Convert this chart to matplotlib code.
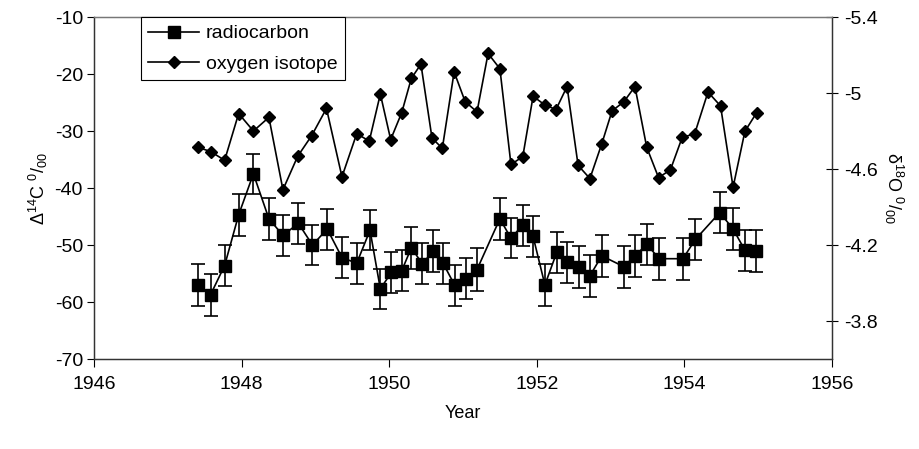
import matplotlib
matplotlib.use('Agg')
import matplotlib.pyplot as plt
from matplotlib.lines import Line2D

plt.rcParams['font.family'] = ['Liberation Sans', 'DejaVu Sans']
plt.rcParams['mathtext.fontset'] = 'custom'
plt.rcParams['mathtext.rm'] = 'Liberation Sans'
plt.rcParams['mathtext.it'] = 'Liberation Sans:italic'
plt.rcParams['mathtext.bf'] = 'Liberation Sans:bold'
plt.rcParams['axes.unicode_minus'] = False

# ---- data ----
c14_years = [1947.41, 1947.58, 1947.77, 1947.96, 1948.16, 1948.37, 1948.56, 1948.77,
             1948.96, 1949.16, 1949.36, 1949.56, 1949.74, 1949.88, 1950.03, 1950.17,
             1950.30, 1950.45, 1950.59, 1950.73, 1950.89, 1951.04, 1951.19, 1951.50,
             1951.65, 1951.81, 1951.95, 1952.11, 1952.27, 1952.41, 1952.57, 1952.72,
             1952.88, 1953.18, 1953.33, 1953.49, 1953.66, 1953.98, 1954.15, 1954.48,
             1954.66, 1954.82, 1954.97]
c14_values = [-57.0, -58.7, -53.6, -44.7, -37.5, -45.4, -48.3, -46.2,
              -50.0, -47.2, -52.2, -53.2, -47.4, -57.7, -54.8, -54.5,
              -50.5, -53.3, -51.1, -53.2, -57.1, -55.9, -54.3, -45.4,
              -48.8, -46.5, -48.5, -57.0, -51.3, -53.0, -53.8, -55.4,
              -51.9, -53.8, -51.9, -49.9, -52.4, -52.4, -49.0, -44.3,
              -47.2, -50.9, -51.1]
c14_errors = [3.7, 3.7, 3.65, 3.65, 3.55, 3.65, 3.55, 3.6,
              3.55, 3.6, 3.65, 3.6, 3.55, 3.55, 3.65, 3.6,
              3.65, 3.6, 3.65, 3.6, 3.65, 3.65, 3.7, 3.65,
              3.55, 3.6, 3.6, 3.7, 3.6, 3.6, 3.7, 3.65,
              3.65, 3.7, 3.65, 3.55, 3.65, 3.65, 3.65, 3.6,
              3.65, 3.6, 3.7]

o18_years = [1947.41, 1947.58, 1947.77, 1947.96, 1948.16, 1948.37, 1948.56, 1948.76,
             1948.95, 1949.15, 1949.36, 1949.56, 1949.73, 1949.88, 1950.02, 1950.17,
             1950.30, 1950.43, 1950.58, 1950.72, 1950.88, 1951.03, 1951.19, 1951.34,
             1951.50, 1951.65, 1951.81, 1951.95, 1952.11, 1952.26, 1952.41, 1952.56,
             1952.72, 1952.88, 1953.02, 1953.18, 1953.33, 1953.49, 1953.65, 1953.81,
             1953.97, 1954.14, 1954.32, 1954.49, 1954.66, 1954.82, 1954.98]
o18_values = [-4.714, -4.692, -4.646, -4.892, -4.800, -4.872, -4.491, -4.667,
              -4.776, -4.919, -4.559, -4.786, -4.747, -4.995, -4.755, -4.897,
              -5.077, -5.152, -4.763, -4.709, -5.111, -4.954, -4.901, -5.208,
              -5.128, -4.624, -4.665, -4.983, -4.937, -4.913, -5.034, -4.619,
              -4.550, -4.732, -4.906, -4.954, -5.034, -4.714, -4.555, -4.595,
              -4.766, -4.786, -5.005, -4.932, -4.504, -4.798, -4.897]

x_ticks = [1946, 1948, 1950, 1952, 1954, 1956]
left_ticks = [-70, -60, -50, -40, -30, -20, -10]
right_ticks = [-5.4, -5.0, -4.6, -4.2, -3.8]
right_labels = ['-5.4', '-5', '-4.6', '-4.2', '-3.8']

# ---- figure ----
fig = plt.figure(figsize=(9.19, 4.49), dpi=100)
ax = fig.add_axes([0.1023, 0.2004, 0.8030, 0.7617])

ax.errorbar(c14_years, c14_values, yerr=c14_errors, fmt='-s', color='black',
            ms=8.8, lw=1.2, elinewidth=1.2, capsize=4.7, capthick=1.2)
ax.set_xlim(1946, 1956)
ax.set_ylim(-70, -10)
ax.set_xticks(x_ticks)
ax.set_yticks(left_ticks)
ax.tick_params(axis='both', labelsize=14, direction='out', length=5, width=0.8)
ax.tick_params(axis='x', pad=6, length=6)
ax.tick_params(axis='y', pad=3)
ax.set_xlabel('Year', fontsize=13, labelpad=9)
ax.set_ylabel(r'Δ$^{\mathregular{14}}$C $^{\mathregular{0}}$/$_{\mathregular{00}}$',
              fontsize=13, labelpad=3)

ax2 = ax.twinx()
ax2.plot(o18_years, o18_values, '-D', color='black', ms=6.3, lw=1.2)
ax2.set_ylim(-3.6, -5.4)
ax2.set_yticks(right_ticks)
ax2.set_yticklabels(right_labels)
ax2.tick_params(axis='y', labelsize=14, direction='inout', length=9, width=0.8, pad=4)
ax2.set_ylabel(r'δ$^{\mathregular{18}}$O $^{\mathregular{0}}$/$_{\mathregular{00}}$',
               fontsize=13, rotation=270, labelpad=20)

for a in (ax, ax2):
    for s in a.spines.values():
        s.set_linewidth(0.9)
        s.set_color('#333333')
    a.spines['top'].set_color('#777777')

handles = [Line2D([], [], color='black', marker='s', ms=8.8, lw=1.2),
           Line2D([], [], color='black', marker='D', ms=6.3, lw=1.2)]
leg = ax2.legend(handles, ['radiocarbon', 'oxygen isotope'], loc='upper left',
                 bbox_to_anchor=(0.063, 1.0), borderaxespad=0, fontsize=14,
                 frameon=True, fancybox=False, framealpha=1, edgecolor='black',
                 handlelength=2.6, handletextpad=0.35, labelspacing=0.65,
                 borderpad=0.4)
leg.get_frame().set_linewidth(0.8)

fig.savefig('out.png', dpi=100)
